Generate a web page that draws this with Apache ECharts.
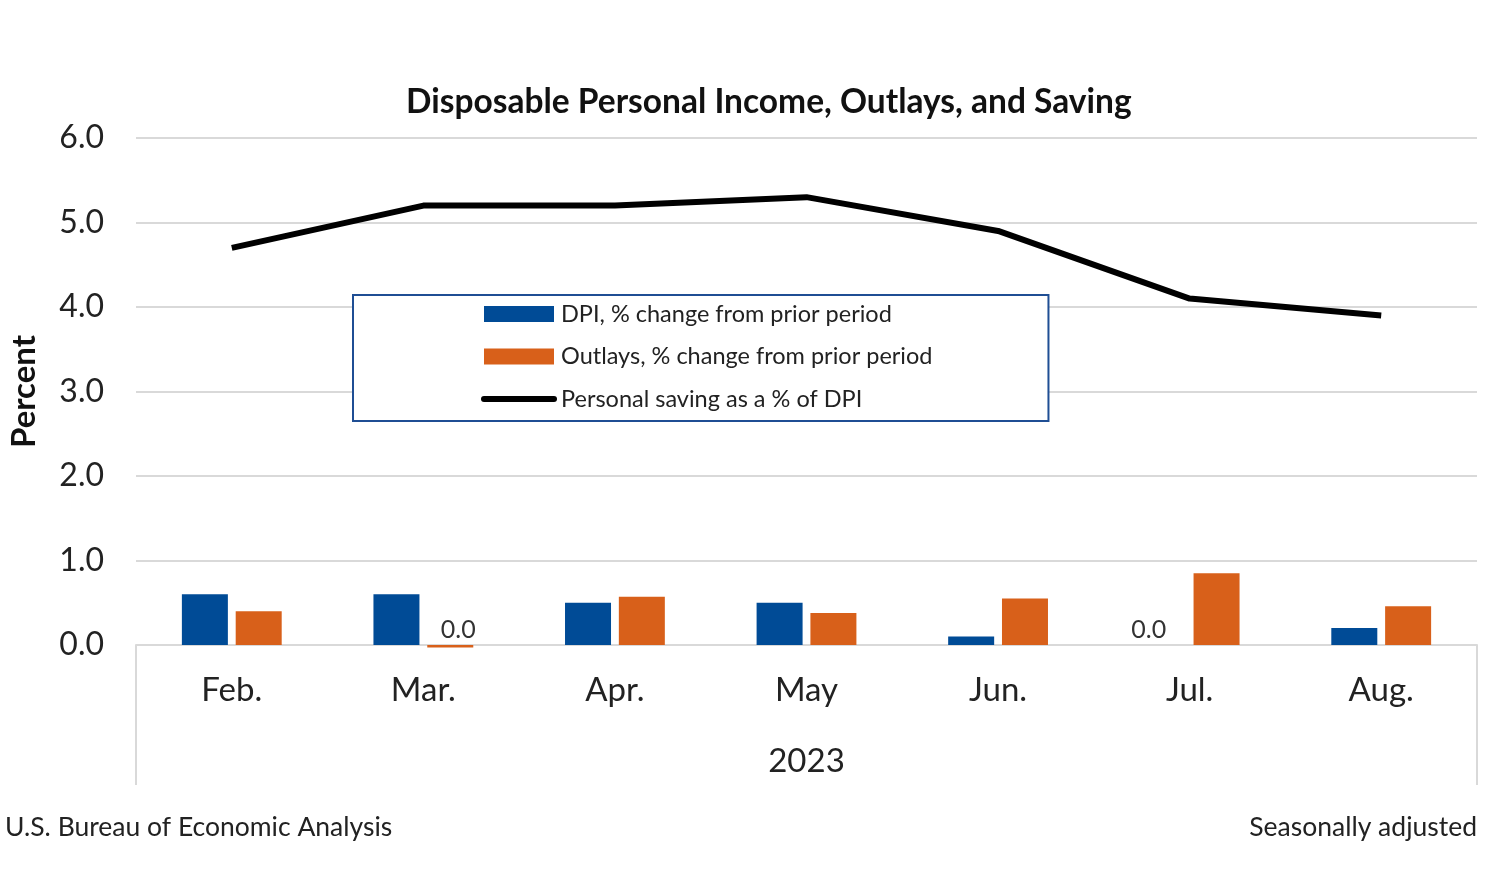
<!DOCTYPE html>
<html><head><meta charset="utf-8">
<script src="https://cdn.jsdelivr.net/npm/echarts@6/dist/echarts.min.js"></script>
<style>html,body{margin:0;padding:0;background:#fff}#c{width:1510px;height:875px}</style>
</head><body><div id="c"></div>
<script>
const categories = ['Feb.', 'Mar.', 'Apr.', 'May', 'Jun.', 'Jul.', 'Aug.'];
const groupLabel = '2023';
const dpiChange = [0.6, 0.6, 0.5, 0.5, 0.1, 0.0, 0.2];
const outlaysChange = [0.4, -0.03, 0.57, 0.38, 0.55, 0.85, 0.46];
const savingRate = [4.7, 5.2, 5.2, 5.3, 4.9, 4.1, 3.9];
const yTicks = [0, 1, 2, 3, 4, 5, 6];
const names = ['DPI, % change from prior period', 'Outlays, % change from prior period', 'Personal saving as a % of DPI'];

const FONT = 'Lato, "Noto Sans", sans-serif';
const BLUE = '#004b96', ORANGE = '#d8601a';

function barData(arr, dx) {
  return arr.map(v => Math.round(v * 10) === 0
    ? { value: v, label: { show: true, position: 'top', distance: 3, offset: [dx, 0], formatter: () => '0.0', fontSize: 25, color: '#333', fontFamily: FONT } }
    : v);
}

const chart = echarts.init(document.getElementById('c'));
chart.setOption({
  animation: false,
  backgroundColor: '#fff',
  title: [
    { text: 'Disposable Personal Income, Outlays, and Saving', left: 401, top: 80,
      textStyle: { fontFamily: FONT, fontSize: 33.5, fontWeight: 'bold', color: '#111' } },
    { text: 'U.S. Bureau of Economic Analysis', left: 0, top: 809,
      textStyle: { fontFamily: FONT, fontSize: 26.5, fontWeight: 'normal', color: '#222' } },
    { text: 'Seasonally adjusted', right: 28, top: 809,
      textStyle: { fontFamily: FONT, fontSize: 26.5, fontWeight: 'normal', color: '#222' } }
  ],
  grid: { left: 132, right: 33, top: 138, bottom: 230, containLabel: false },
  legend: {
    orient: 'vertical', left: 353, top: 295,
    padding: [7, 116, 10, 128],
    itemGap: 18.5, itemWidth: 70, itemHeight: 16,
    borderColor: '#1f4e94', borderWidth: 2, backgroundColor: '#fff',
    textStyle: { fontFamily: FONT, fontSize: 23.5, color: '#222', padding: [0, 0, 0, 2] },
    data: [
      { name: names[0], icon: 'rect' },
      { name: names[1], icon: 'rect' },
      { name: names[2], itemStyle: { opacity: 0 }, lineStyle: { width: 6, cap: 'round', color: '#000' } }
    ]
  },
  xAxis: [
    { type: 'category', data: categories, position: 'bottom',
      axisLine: { show: true, lineStyle: { color: '#d9d9d9', width: 2 } },
      axisTick: { show: false },
      axisLabel: { fontFamily: FONT, fontSize: 33, color: '#222', margin: 29 } },
    { type: 'value', min: 0, max: 1, interval: 1, position: 'bottom',
      name: groupLabel, nameLocation: 'middle', nameGap: 100,
      nameTextStyle: { fontFamily: FONT, fontSize: 33, color: '#222' },
      axisLine: { show: false },
      axisTick: { show: true, length: 140, lineStyle: { color: '#d9d9d9', width: 2 } },
      axisLabel: { show: false }, splitLine: { show: false } }
  ],
  yAxis: {
    type: 'value', min: yTicks[0], max: yTicks[yTicks.length - 1], interval: 1,
    name: 'Percent', nameLocation: 'middle', nameGap: 95,
    nameTextStyle: { fontFamily: FONT, fontSize: 33, fontWeight: 'bold', color: '#111' },
    axisLine: { show: false }, axisTick: { show: false },
    axisLabel: { fontFamily: FONT, fontSize: 32, color: '#222', margin: 32, formatter: v => v.toFixed(1) },
    splitLine: { lineStyle: { color: '#d9d9d9', width: 2 } }
  },
  series: [
    { name: names[0], type: 'bar', data: barData(dpiChange, -14), barWidth: 46, barGap: '17%',
      itemStyle: { color: BLUE }, clip: false, xAxisIndex: 0 },
    { name: names[1], type: 'bar', data: barData(outlaysChange, 8), barWidth: 46,
      itemStyle: { color: ORANGE }, clip: false, xAxisIndex: 0 },
    { name: names[2], type: 'line', data: savingRate, symbol: 'none', xAxisIndex: 0,
      lineStyle: { color: '#000', width: 6 }, itemStyle: { color: '#000' }, z: 5 }
  ]
});
</script></body></html>
